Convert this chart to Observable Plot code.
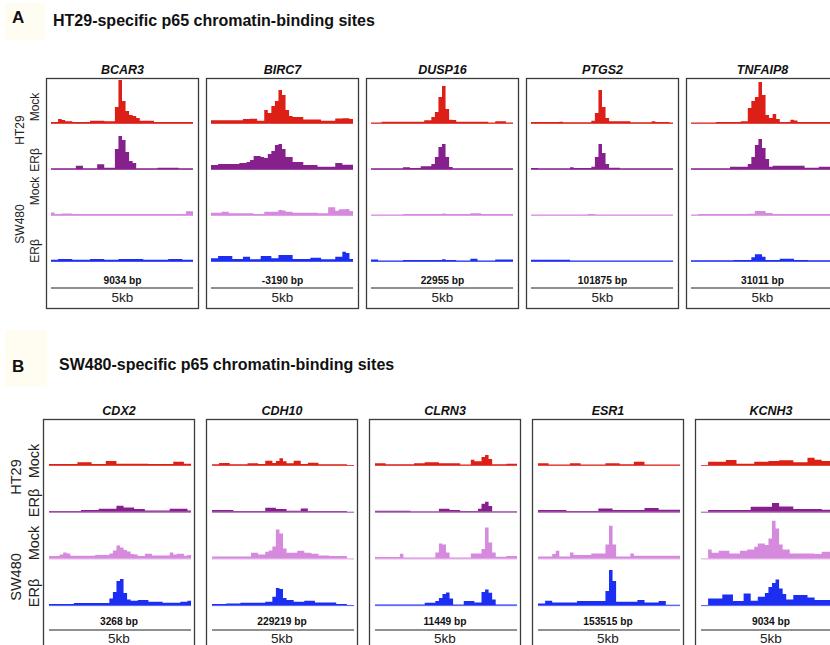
<!DOCTYPE html>
<html>
<head>
<meta charset="utf-8">
<script src="https://cdn.jsdelivr.net/npm/d3@7"></script>
<script src="https://cdn.jsdelivr.net/npm/@observablehq/plot@0.6"></script>
<style>
  html, body { margin: 0; padding: 0; background: #fff; }
  body { width: 830px; height: 645px; overflow: hidden; position: relative;
         font-family: "Liberation Sans", Arial, sans-serif; color: #111; }
  .abs { position: absolute; white-space: nowrap; line-height: 1; }
  .vl { position: absolute; white-space: nowrap; line-height: 1;
        transform: translate(-50%, -50%) rotate(-90deg); color: #222; }
  .cream { position: absolute; background: #fffdf1; }
  #panelA { position: absolute; left: 0; top: 0; width: 900px; }
  #panelB { position: absolute; left: 0; top: 320px; width: 900px; }
  #panelA svg, #panelB svg { max-width: none !important; }
</style>
</head>
<body>
<div class="cream" style="left:5px;top:3px;width:40px;height:37px"></div>
<div class="cream" style="left:5px;top:330px;width:42px;height:57px"></div>
<div class="abs" style="left:12px;top:8.6px;font-size:17px;font-weight:bold">A</div>
<div class="abs" style="left:53px;top:12.5px;font-size:16px;font-weight:bold">HT29-specific p65 chromatin-binding sites</div>
<div class="abs" style="left:12px;top:357.6px;font-size:17px;font-weight:bold">B</div>
<div class="abs" style="left:59px;top:356.5px;font-size:16px;font-weight:bold">SW480-specific p65 chromatin-binding sites</div>

<div id="panelA"></div>
<div id="panelB"></div>

<div class="vl" style="left:20px;top:130px;font-size:12px">HT29</div>
<div class="vl" style="left:35px;top:107px;font-size:12px">Mock</div>
<div class="vl" style="left:35px;top:160px;font-size:12px">ERβ</div>
<div class="vl" style="left:20px;top:224px;font-size:12px">SW480</div>
<div class="vl" style="left:35px;top:191px;font-size:12px">Mock</div>
<div class="vl" style="left:35px;top:251px;font-size:12px">ERβ</div>

<div class="vl" style="left:16px;top:477px;font-size:14.5px">HT29</div>
<div class="vl" style="left:34px;top:461px;font-size:14.5px">Mock</div>
<div class="vl" style="left:34px;top:503px;font-size:14.5px">ERβ</div>
<div class="vl" style="left:16px;top:577px;font-size:14.5px">SW480</div>
<div class="vl" style="left:34px;top:543px;font-size:14.5px">Mock</div>
<div class="vl" style="left:34px;top:593px;font-size:14.5px">ERβ</div>

<script>
// ---------- Data ----------
const tracks = ["HT29 Mock", "HT29 ERβ", "SW480 Mock", "SW480 ERβ"];
const trackColors = ["#dc1f17", "#85208d", "#d58ade", "#1b2ef2"];

const genesA = ["BCAR3", "BIRC7", "DUSP16", "PTGS2", "TNFAIP8"];
const bpA = ["9034 bp", "-3190 bp", "22955 bp", "101875 bp", "31011 bp"];
const genesB = ["CDX2", "CDH10", "CLRN3", "ESR1", "KCNH3"];
const bpB = ["3268 bp", "229219 bp", "11449 bp", "153515 bp", "9034 bp"];
const scaleLabel = "5kb";

// signal per 40 bins, rows: HT29 Mock, HT29 ERβ, SW480 Mock, SW480 ERβ
const BCAR3 = [
  [1,1,4,3,1.7,1.7,1,1,1,1, 1,2.3,2.3,2.3,2.3,1.7,1.7,1.7,16,43, 22,12,8,7,5,2.3,2.3,2.3,2.3,1, 1,1,1,1,1,1,1,1,1,1],
  [0.7,0.7,0.7,0.7,0.7,0.7,0.7,3.3,3.3,0.7, 0.7,0.7,0.7,4.7,4.7,1.3,1.3,1.3,20,33, 29,17,8,6,0.7,0.7,0.7,0.7,0.7,0.7, 1.3,1.3,1.3,1.3,1.3,1.3,0.7,0.7,0.7,0.7],
  [2.5,1,1,1.4,1.4,1.4,1,1,1,1, 1,1,1,1,1,1,1,1,1,1, 1,1,1,1,1,1,1,1,1,1, 1,1,1,1,1,1,1,1,3.7,3.7],
  [1.3,1.3,2,2,2,2,1.3,1.3,1.3,1.3, 1.3,2,2,2,2,1.3,1.3,1.3,1.3,2, 2,2,2,2,2,2,1.3,1.3,1.3,1.3, 1.3,1.3,1.3,2,2,2,2,1.3,1.3,1.3]
];
const BIRC7 = [
  [2.7,2.7,2.7,2.7,2.7,2.7,2.7,2.7,2.7,4, 4,4.3,4.3,2.3,2.3,13,10,17,22,33, 28,13,7,6,6,6,3.5,3.5,3.5,3.5, 3.5,2.3,2.3,2.3,2.3,4.5,4.5,4.7,4.7,4],
  [4,4,5,5,5,5,5,5,6,6, 7,9,13,13,12,11,15,18,24,25, 20,12,12,7,7,7,4,4,4,4, 2.3,2.3,2.3,2.3,2.3,6,6,4.3,4.3,4.3],
  [2.3,2.3,2.3,3.3,3.3,1.7,1.7,1.7,1.7,1.7, 1.7,1.7,1,1,1,3.3,3.3,3.3,3.3,5, 4.5,3.3,3.3,2.3,2.3,2.3,2.3,2.3,2.3,2.3, 1.7,1.7,1.7,7.7,7.7,4.3,5.7,5.7,6,4],
  [2.7,2.7,5,5,5,5,2,2,2,4.3, 4.3,1.7,1.7,1.7,5,5,5,2.7,2.7,6, 6,6,6,2,2,2,2,2,3.3,3.3, 3.3,1.7,1.7,1.7,1.7,4.3,4.3,9.3,8,2]
];
const DUSP16 = [
  [0.5,0.5,0.5,1.3,1.3,1.3,1.3,1.3,1.3,1.3, 1.3,1.3,1.3,1.3,1.3,2.7,2.7,6,11,26, 37,14,3.3,3,1.3,1.3,1.3,1.3,1.3,1.3, 1.3,1.3,1.3,0.5,0.5,1.7,1.7,1.7,0.5,0.5],
  [0.7,0.7,0.7,0.7,0.7,0.7,0.7,0.7,0.7,1.7, 1.7,1,1,1,2.7,2.7,2.7,5,12,22, 25,12,2,0.7,0.7,0.7,0.7,0.7,0.7,0.7, 0.7,0.7,0.7,0.7,0.7,0.7,0.7,0.7,0.7,0.7],
  [0.5,0.5,0.5,0.5,0.5,0.5,0.5,0.5,0.5,1, 1,1,1,1,1,1,1,1,1,1, 1.5,1,1,1,1,1,1,1,1.7,1.7, 1.7,1,1,1,1,1,1,1,1,1],
  [1.5,1.5,0.5,0.5,0.5,0.5,0.5,0.5,0.5,1, 1,1,1,1,1,1,1,1,1,1, 1.7,1,1,1,0.5,0.5,0.5,0.5,2.3,2.3, 0.5,0.5,0.5,0.5,0.5,1.5,1.5,1.5,1.5,1.5]
];
const PTGS2 = [
  [1,1,1,1,1,1,1,1,1.3,0.7, 0.7,0.7,0.7,0.7,0.7,0.7,0.7,2.3,10,33, 16,5,1.7,1.7,1.7,1.7,1.7,1.7,0.7,0.7, 0.7,0.7,0.7,0.7,1.7,1,1,1,1,0.5],
  [1,1,0.7,0.7,0.7,0.7,0.7,0.7,0.7,0.7, 0.7,1.7,1,1,1,1,1,2.3,12,25, 16,5,1.3,1.3,1.3,0.7,0.7,0.7,0.7,0.7, 0.7,0.7,0.7,0.7,0.7,0.7,0.7,0.7,0.7,0.7],
  [0.5,0.5,0.5,0.5,0.5,0.5,0.5,0.5,0.5,0.5, 0.5,0.5,0.5,0.5,0.5,0.5,1,1,0.5,0.5, 0.5,0.5,0.5,0.5,0.5,0.5,0.5,0.5,0.5,0.5, 0.5,0.5,0.5,0.5,0.5,0.5,0.5,0.5,0.5,0.5],
  [1.3,1.3,1.3,1.3,1.3,1.3,1.3,1.3,1.3,1.3, 1.3,0.5,0.5,0.5,0.5,0.5,0.5,0.5,0.5,0.5, 0.5,0.5,0.5,0.5,0.5,0.5,0.5,0.5,0.5,0.5, 0.5,0.5,0.5,0.5,0.5,0.5,0.5,0.5,0.5,0.5]
];
const TNFAIP8 = [
  [0.5,0.5,0.5,0.5,0.5,0.5,0.5,1,1,1, 1,1,1,1,1.7,1.7,15,22,26,41, 28,8,5,9,4,1,1,1,3.3,2.5, 1,1,1,1,1,1,1,1,1,1],
  [0.7,0.7,0.7,0.7,0.7,0.7,0.7,0.7,0.7,0.7, 0.7,2.3,2.3,2.3,2.3,2.3,5,12,24,30, 21,10,2.3,3.3,3.3,3.3,3.3,3.3,3.3,3.3, 3.3,3.3,1.3,1.3,1.3,1.3,2.3,2.3,2.3,2.3],
  [0.5,0.5,1,1,1,1,1,1,1,1, 1,1,1,1,1,1,1.3,1.3,4,4, 4,2,2,1,1,1,1,1,1,1, 1,1,1,1,1,1,1,1,1,1],
  [0.7,0.7,0.7,0.7,0.7,0.7,0.7,0.7,0.7,0.7, 0.7,0.7,1,1,1,1,1,3.7,6.7,6.7, 4.3,1,1,1,1,2.3,2.3,2.3,2.3,1, 1,1,1,0.7,0.7,0.7,0.7,0.7,0.7,0.7]
];

const CDX2 = [
  [1,1,1,1,1,1,1,1,2.7,2.7, 2.7,2.7,1,1,1,1,4,4,4,1.3, 1.3,1.3,1.3,1.3,1.3,1.3,1.3,1.3,1,1, 1,1,1,1,1,3.3,3.3,3.3,1.3,1.3],
  [0.7,0.7,0.7,0.7,0.7,0.7,0.7,0.7,0.7,1.7, 1.7,1.7,1.7,1.7,3,3,3,3,3,6, 6,4.3,4.3,4.3,2.7,2.7,2.7,1.3,1.3,1.3, 1.3,1.3,1.3,1.3,3,3,3,3,3,1.3],
  [2.3,2.3,2.3,4,6,5,2.7,2.7,2.7,2.7, 2.7,2.7,2.7,3.3,3.3,3.3,3.3,5,8,13, 11,8.5,7,4.5,4,2.3,2.3,4.7,4.7,3, 3,3,3,3,6,4,4.7,4.7,2.7,3.5],
  [1,1,1,1,1,1,1,2,2,2, 2,2,2,2,2,2,2,6.7,13,24, 26,12,5.5,4.3,4.3,5,5,5,3.3,3.3, 3.3,3.3,2.3,2.3,2.3,2.3,2.3,3.3,3.3,4.3]
];
const CDH10 = [
  [0.7,0.7,2,2,2,0.7,0.7,0.7,0.7,0.7, 1.7,1.7,1.7,1,1,4.3,4.3,2,4,6.7, 3.7,1.7,1.7,4.3,4.3,1,1,2.3,2.3,2.3, 0.7,0.7,0.7,0.7,0.7,0.7,0.7,0.7,0,0],
  [1.7,1.7,1.7,1.7,1.7,1.7,0.7,0.7,0.7,0.7, 0.7,0.7,0.7,0.7,0.7,4,4,4,2.7,2.7, 2.7,1,1,1,1,3.3,3.3,0.7,0.7,0.7, 0.7,0.7,0.7,0.7,0.7,0.7,0.7,0.7,0,0],
  [2,2,2,2,2,2,2,2,2,2, 2,5.7,5.7,4,4,6.7,8,12,29,25, 10,5.7,5.7,5.7,7.7,7.7,5.7,5.7,4.7,4.7, 3,3,3,2.3,2.3,2.3,2.3,2.3,0,0],
  [1,1,1,1,1.7,1.7,1.7,1.7,2.3,2.3, 2.3,2.3,2.3,2.3,2.3,3.3,3.3,8.3,17,16, 7,5,5,3.3,3.3,3.3,4.3,4.3,4.3,2.7, 2.7,2.7,2.7,2.7,2.7,1,1,1,0,0]
];
const CLRN3 = [
  [1.7,1.7,1.7,0.8,0.8,0.8,0.8,0.8,0.8,0.8, 0.8,1.7,1.7,1.7,2.7,2.7,2.7,2.7,1.7,1.7, 1.7,1.7,1.7,1.7,0.5,0.5,0.5,5.3,3.7,3.7, 8,10,6,0.7,0.7,0.7,0.7,1.3,1.3,1.3],
  [1,1,1,1,1,1,1,1,1,1, 0.5,0.5,0.5,0.5,0.5,0.5,0.5,0.5,3,3, 3,1.7,1.7,1.7,0.7,0.7,0.7,0.7,0.7,3, 8,10,5.7,0.5,0.5,0.5,0.5,0.5,0.5,0.5],
  [1.3,1.3,1.3,1.3,1.3,1.3,1.3,4.7,1,1, 1,1,1,1,1,1,1,6,15,14, 6,1,1,1,1,1,1,5,5,5, 9.3,31,16,6,1.7,1.7,1.7,2.3,2.3,2.3],
  [0.7,0.7,0.7,0.7,0.7,0.7,0.7,0.7,0.7,0.7, 0.7,0.7,0.7,0.7,2.3,2.3,2.3,4,7,11, 12.7,6.7,0.7,0.7,0.7,4,4,4,2.7,2.7, 13,15.7,12.3,5.7,0.7,0.7,0.7,0.7,0.7,0.7]
];
const ESR1 = [
  [1.7,1.7,1.7,0.5,0.5,0.5,0.5,0.5,0.5,1.7, 1.7,1.7,0.5,0.5,0.5,0.5,0.5,0.5,0.5,1.7, 1.7,1.7,1.7,0.7,0.7,0.7,0.7,3.3,3.3,3.3, 0.4,0.4,0.4,0.4,0.4,0.4,0.4,0.4,0.4,0.4],
  [1.7,1.7,1.7,1.7,1.7,1.7,1.7,1.7,0.7,0.7, 0.7,0.7,0.7,0.7,0.7,0.7,0.7,3.3,3.3,3.3, 3.3,1.7,1.7,1.7,1.7,1.7,1.7,1.7,1.7,1.7, 3.7,3.7,3.7,3.7,2,2,2,2,2,2],
  [2,2,2,2,4.3,7.7,2,2,2,6, 3.3,3.3,3.3,3.3,3.3,5,5,5,5,14, 32.7,14,2,2,2,2,5,2.7,2.7,2.7, 2.7,2.7,2.7,2.7,2.7,2.7,2.7,2.7,2.7,2.7],
  [1.7,1.7,4.3,4.3,2.7,2.7,2.7,2.7,2.7,2.7, 2.7,4,4,4,4,4,4,4,4,14, 35,24,3.3,3.3,3.3,3.3,3.3,3.3,5,5, 2.7,2.7,2.7,2.7,4,4,0.3,0.3,0.3,0.3]
];
const KCNH3 = [
  [0,0,3.3,3.3,3.3,3.3,3.3,5,5,5, 1.3,1.3,1.3,1.3,1.3,3.3,3.3,3.3,3.3,4, 4,4,4.7,4.7,4.7,4.7,2.7,2.7,2.7,2.7, 7.3,7.3,5.3,5.3,4,4,4,4,4,4],
  [0,0,1.7,1.7,1.7,1.7,1.7,1.7,1.7,1.7, 1.7,1.7,1.7,1.7,5,5,5,5,5,5, 8.7,8.7,5.3,5.3,5.3,5.3,2.7,2.7,2.7,2.7, 2.7,2.7,2.7,2.7,2,2,2,2,2,2],
  [0,0,9,5.7,5.7,7.7,7.7,7.7,5,5, 5,7.7,7.7,9,9,11.7,15,15,13.3,20, 37.7,30,14,9,9,5,5,5,5,5, 5,5,4.3,4.3,6.7,6.7,6.7,6.7,6.7,6.7],
  [0,0,6.7,6.7,6.7,6.7,10.7,10.7,10.7,4, 4,4,11.7,11.7,4.3,4.3,8.3,8.3,12,18, 22,25.7,16.7,11,5.7,5.7,10,10,10,10, 7.7,7.7,5,5,5,5,5,5,5,5]
];

const signalsA = [BCAR3, BIRC7, DUSP16, PTGS2, TNFAIP8];
const signalsB = [CDX2, CDH10, CLRN3, ESR1, KCNH3];

// ---------- Drawing ----------
function seriesFor(genes, signals) {
  return tracks.map((t, k) => genes.flatMap((g, gi) => {
    const vals = signals[gi][k];
    const pts = vals.map((v, i) => ({gene: g, i, v}));
    pts.push({gene: g, i: vals.length, v: vals[vals.length - 1]});
    return pts;
  }));
}

function panel(genes, signals, bp, cfg) {
  const series = seriesFor(genes, signals);
  const nBins = signals[0][0].length;
  const base = (k) => cfg.base0 - k * cfg.pitch;
  const svg = Plot.plot({
    width: cfg.width, height: cfg.height,
    marginTop: cfg.mt, marginBottom: cfg.mb, marginLeft: cfg.ml, marginRight: cfg.mr,
    style: {fontFamily: "'Liberation Sans', Arial, sans-serif", background: "transparent", color: "#111", maxWidth: "none"},
    fx: {domain: genes, paddingInner: cfg.pad, paddingOuter: 0, axis: null, label: null},
    x: {domain: [0, nBins], insetLeft: cfg.il, insetRight: cfg.ir, axis: null},
    y: {domain: [0, cfg.inner], axis: null},
    marks: [
      Plot.frame({stroke: "#3c3c3c", strokeWidth: 1.3}),
      ...series.map((s, k) => Plot.ruleY(genes, {fx: (d) => d, y: base(k), x1: 0, x2: nBins,
        stroke: trackColors[k], strokeWidth: 1, strokeOpacity: 0.8})),
      ...series.map((s, k) => Plot.areaY(s, {fx: "gene", x: "i", y1: base(k), y2: (d) => base(k) + d.v,
        curve: "step-after", fill: trackColors[k]})),
      Plot.text(genes, {fx: (d) => d, text: (d) => d, frameAnchor: "top", lineAnchor: "bottom", dy: -5,
        fontWeight: "bold", fontStyle: "italic", fontSize: 12.5, fill: "#111"}),
      Plot.text(genes, {fx: (d) => d, text: (d, i) => bp[i], frameAnchor: "bottom", lineAnchor: "middle",
        dy: -cfg.bpY, fontWeight: "bold", fontSize: 10.2, fill: "#111"}),
      Plot.ruleY(genes, {fx: (d) => d, y: cfg.lineY, x1: 0, x2: nBins, stroke: "#222", strokeWidth: 1.2}),
      Plot.text(genes, {fx: (d) => d, text: () => scaleLabel, frameAnchor: "bottom", lineAnchor: "middle",
        dy: -cfg.kbY, fontSize: 13.5, fill: "#222"})
    ]
  });
  svg.style.maxWidth = "none";
  return svg;
}

const plotA = panel(genesA, signalsA, bpA, {
  width: 860, height: 320, mt: 78, mb: 12, ml: 45, mr: 21, pad: 0.053,
  inner: 230, base0: 185, pitch: 46, il: 5, ir: 5, bpY: 28, lineY: 20.5, kbY: 11
});
document.getElementById("panelA").appendChild(plotA);

const plotB = panel(genesB, signalsB, bpB, {
  width: 870, height: 335, mt: 99, mb: 0, ml: 42, mr: 24.2, pad: 0.075,
  inner: 236, base0: 190, pitch: 46.7, il: 6, ir: 3, bpY: 33.5, lineY: 25.5, kbY: 17
});
document.getElementById("panelB").appendChild(plotB);
</script>
</body>
</html>
